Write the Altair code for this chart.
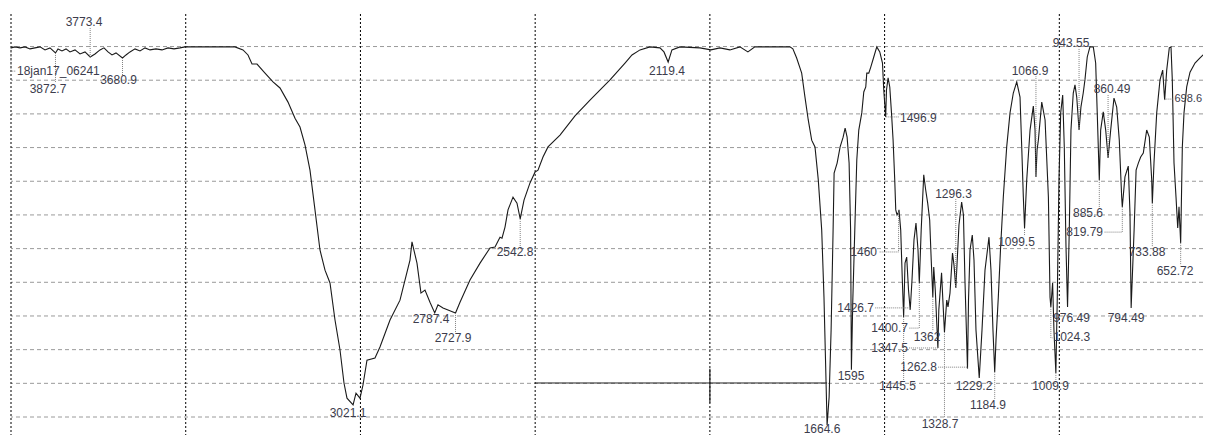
import altair as alt
import pandas as pd

# ---------------- spectrum (wavenumber cm-1, transmittance units) ----------------
wavenumber = [
    4000, 3988.6, 3974.2, 3959.9, 3945.6, 3931.3, 3917.0, 3902.7, 3888.4, 3872.7,
    3865.5, 3854.1, 3842.6, 3831.2, 3816.8, 3802.5, 3788.2, 3773.4, 3759.6, 3745.3,
    3733.9, 3722.4, 3711.0, 3699.5, 3680.9, 3670.9, 3659.5, 3645.1, 3630.8, 3616.5,
    3602.2, 3585.1, 3567.9, 3550.7, 3533.5, 3516.4, 3502.1,
    3359.0, 3336.1, 3321.8, 3310.3, 3296.0, 3273.1, 3250.2, 3230.2, 3207.3, 3187.3,
    3173.0, 3158.7, 3144.4, 3130.1, 3115.8, 3101.4, 3087.1, 3072.8, 3058.5, 3047.1,
    3038.5, 3021.1, 3012.7, 3001.3, 2992.7, 2981.3, 2958.4, 2944.1, 2915.4, 2886.8,
    2858.2, 2852.5, 2838.2, 2826.8, 2815.3, 2801.0, 2787.4, 2778.1, 2763.7, 2749.4,
    2727.9, 2715.1, 2686.5, 2657.8, 2629.2, 2614.9, 2600.6, 2594.9, 2586.3, 2577.7,
    2563.4, 2552.0, 2542.8, 2531.9, 2514.8, 2500.5, 2491.9, 2477.6, 2463.3, 2428.9,
    2386.0, 2343.1, 2285.8, 2242.9, 2222.9, 2200.0, 2171.4, 2142.8, 2131.4, 2119.4,
    2108.6, 2085.7, 2028.5, 1997.0, 1971.3, 1942.7, 1914.1, 1891.2, 1871.2, 1771.0,
    1762.5, 1751.7, 1737.3, 1727.9, 1718.5, 1708.7, 1699.2, 1689.8, 1680.0, 1673.5,
    1669.1, 1664.6, 1658.8, 1653.1, 1647.4, 1644.5, 1635.9, 1627.3, 1618.7, 1613.0,
    1607.3, 1601.6, 1597.3, 1595.0, 1591.0, 1585.3, 1579.6, 1573.9, 1565.3, 1559.6,
    1553.9, 1551.0, 1545.3, 1539.6, 1531.0, 1522.4, 1513.8, 1506.1, 1502.4, 1496.9,
    1494.6, 1490.0, 1485.2, 1480.3, 1475.7, 1471.0, 1468.1, 1464.4, 1460.0, 1458.8,
    1453.9, 1449.3, 1445.5, 1441.6, 1436.8, 1431.6, 1426.7, 1421.6, 1415.9, 1410.2,
    1404.4, 1400.7, 1395.3, 1388.0, 1382.4, 1376.7, 1371.0, 1366.6, 1362.0, 1359.4,
    1355.0, 1347.5, 1344.9, 1337.0, 1333.3, 1328.7, 1322.2, 1318.6, 1312.9, 1305.7,
    1301.4, 1296.3, 1292.9, 1287.2, 1279.5, 1274.4, 1270.1, 1262.8, 1259.9, 1255.6,
    1249.1, 1244.2, 1238.5, 1229.2, 1221.3, 1212.7, 1201.3, 1195.6, 1189.9, 1184.9,
    1181.2, 1174.6, 1168.4, 1160.3, 1150.6, 1141.1, 1131.7, 1121.9, 1112.5, 1107.6,
    1103.0, 1099.5, 1093.3, 1083.8, 1074.4, 1069.5, 1066.9, 1063.7, 1060.0, 1050.3,
    1040.8, 1031.3, 1026.6, 1024.3, 1019.2, 1015.4, 1009.9, 1005.8, 1001.0, 996.1,
    990.4, 985.8, 980.9, 976.49, 971.5, 966.7, 960.1, 955.2, 950.2, 943.55,
    938.2, 931.6, 926.7, 920.1, 912.4, 902.8, 896.0, 891.5, 885.6, 881.7,
    874.3, 867.3, 860.49, 853.0, 843.6, 835.8, 828.4, 821.6, 819.79, 812.2,
    802.7, 797.8, 794.49, 786.0, 780.3, 773.9, 767.2, 759.7, 750.0, 742.5,
    735.6, 733.88, 729.1, 721.3, 711.9, 704.2, 698.6, 692.7, 685.3, 680.4,
    676.7, 671.8, 666.1, 661.2, 657.5, 652.72, 648.0, 643.2, 635.5, 626.0,
    611.7, 597.4, 583.1, 568.8,
]
transmittance = [
    109.6, 109.9, 109.6, 109.9, 109.3, 109.6, 109.9, 109.0, 109.6, 108.1,
    109.3, 108.7, 109.3, 108.4, 109.0, 107.8, 108.4, 106.9, 107.8, 109.0,
    109.6, 108.4, 107.5, 108.1, 106.6, 107.5, 108.4, 109.3, 108.7, 109.6,
    109.0, 109.3, 109.0, 109.6, 109.3, 109.6, 109.9,
    109.9, 109.0, 107.5, 104.8, 104.8, 102.1, 99.5, 97.7, 93.5, 88.7,
    86.1, 80.8, 73.3, 61.5, 49.6, 43.6, 39.8, 28.8, 19.9, 10.1,
    5.6, 3.6, 7.1, 5.6, 9.5, 16.9, 17.5, 20.8, 28.8, 34.7,
    46.6, 52.0, 45.7, 36.8, 37.7, 34.1, 30.9, 33.3, 32.4, 31.8,
    30.9, 34.1, 40.7, 45.7, 50.2, 50.5, 53.4, 53.1, 56.4, 61.5,
    65.3, 63.5, 58.8, 64.4, 69.5, 72.7, 73.3, 77.2, 80.2, 83.7,
    89.4, 94.1, 100.1, 105.1, 107.5, 109.0, 109.9, 109.6, 108.4, 105.4,
    109.0, 109.9, 109.6, 109.0, 109.6, 109.0, 109.9, 108.4, 109.9, 109.9,
    109.3, 106.6, 102.1, 95.0, 88.2, 82.2, 80.2, 70.4, 55.5, 35.6,
    16.9, -2.4, 5.9, 25.8, 55.5, 72.4, 75.4, 80.2, 83.1, 85.8,
    83.1, 75.4, 55.5, 14.0, 34.7, 55.5, 76.3, 85.2, 90.3, 96.5,
    98.0, 102.1, 102.1, 103.9, 106.9, 109.9, 108.4, 105.1, 97.1, 89.1,
    97.1, 100.7, 98.0, 90.3, 82.2, 70.4, 61.5, 60.0, 60.9, 61.5,
    55.5, 40.7, 29.7, 45.7, 47.5, 37.7, 31.8, 40.7, 52.6, 57.6,
    49.6, 39.8, 55.5, 71.9, 67.4, 63.5, 58.5, 46.6, 35.6, 44.5,
    37.7, 20.5, 31.8, 42.8, 34.7, 25.2, 34.7, 32.7, 36.8, 48.7,
    45.1, 38.3, 45.1, 57.0, 63.8, 60.0, 40.7, 14.3, 34.7, 49.6,
    54.0, 46.6, 25.8, 11.6, 25.8, 43.6, 53.4, 43.6, 25.8, 13.4,
    22.9, 35.6, 49.6, 65.3, 80.2, 90.3, 96.2, 99.5, 95.0, 80.2,
    65.3, 56.1, 70.4, 85.2, 92.3, 85.2, 71.3, 79.3, 82.2, 93.5,
    88.2, 65.3, 35.6, 32.7, 39.8, 25.8, 13.1, 35.6, 70.4, 90.3,
    95.6, 80.2, 50.5, 32.7, 55.5, 85.2, 96.2, 98.6, 95.0, 85.2,
    92.0, 96.2, 100.1, 106.9, 109.9, 109.9, 105.1, 90.3, 70.4, 85.2,
    90.6, 85.2, 76.9, 85.2, 94.7, 92.0, 82.2, 65.3, 62.4, 71.3,
    74.5, 60.6, 32.4, 55.5, 73.3, 75.4, 77.2, 78.4, 85.2, 83.1,
    70.4, 63.5, 75.4, 90.3, 100.1, 103.0, 94.1, 103.0, 109.6, 109.9,
    100.1, 75.4, 65.3, 56.1, 62.4, 51.7, 80.2, 90.3, 98.0, 102.4,
    105.1, 106.6, 108.1, 109.0,
]

# ---------------- peak annotations ----------------
label_text = ["3773.4", "18jan17_06241", "3872.7", "3680.9", "3021.1", "2787.4", "2727.9",
              "2542.8", "2119.4", "1664.6", "1595", "1496.9", "1460", "1426.7", "1445.5",
              "1400.7", "1362", "1347.5", "1328.7", "1296.3", "1262.8", "1229.2", "1184.9",
              "1099.5", "1066.9", "1024.3", "1009.9", "976.49", "943.55", "885.6", "860.49",
              "819.79", "794.49", "733.88", "698.6", "652.72"]
peak_wn = [3773.4, 4000, 3872.7, 3680.9, 3021.1, 2787.4, 2727.9,
           2542.8, 2119.4, 1664.6, 1595, 1496.9, 1460, 1426.7, 1445.5,
           1400.7, 1362, 1347.5, 1328.7, 1296.3, 1262.8, 1229.2, 1184.9,
           1099.5, 1066.9, 1024.3, 1009.9, 976.49, 943.55, 885.6, 860.49,
           819.79, 794.49, 733.88, 698.6, 652.72]
peak_T = [106.9, 109.6, 108.1, 106.6, 3.6, 30.9, 30.9,
          58.8, 105.4, -2.4, 14.0, 89.1, 60.9, 31.8, 29.7,
          39.8, 35.6, 20.5, 25.2, 38.3, 14.3, 11.6, 13.4,
          56.1, 71.3, 32.7, 13.1, 32.7, 85.2, 70.4, 76.9,
          62.4, 32.4, 63.5, 94.1, 51.7]
has_leader = [1, 1, 1, 1, 0, 0, 1,
              1, 0, 0, 0, 1, 1, 1, 1,
              1, 1, 1, 1, 1, 1, 0, 1,
              1, 1, 1, 1, 0, 1, 1, 1,
              1, 0, 1, 1, 1]
corner_T = [115.5, 102.7, 99.5, 101.2, 3.6, 30.9, 24.9,
            50.2, 105.4, -2.4, 14.0, 89.1, 49.0, 32.4, 11.0,
            26.4, 25.5, 20.5, -0.3, 64.7, 14.8, 11.6, 5.3,
            53.7, 101.2, 23.5, 11.0, 32.7, 109.6, 62.1, 95.6,
            54.9, 32.4, 50.5, 94.4, 45.1]
end_wn = [3773.4, 3985.7, 3872.7, 3680.9, 3021.1, 2787.4, 2727.9,
          2542.8, 2119.4, 1664.6, 1595, 1458.8, 1516.0, 1527.5, 1445.5,
          1430.2, 1362, 1430.2, 1328.7, 1296.3, 1347.2, 1229.2, 1184.9,
          1099.5, 1066.9, 1019.5, 1009.9, 976.49, 943.55, 885.6, 860.49,
          872.2, 794.49, 733.88, 673.3, 652.72]
text_wn = [3791.1, 3982.8, 3894.1, 3692.4, 3035.6, 2798.1, 2735.1,
           2557.7, 2122.7, 1679.2, 1596.2, 1455.9, 1521.8, 1530.4, 1463.1,
           1433.1, 1378.7, 1433.1, 1341.5, 1302.8, 1350.0, 1244.2, 1204.1,
           1122.6, 1083.9, 1016.6, 1025.3, 965.2, 966.6, 918.0, 849.3,
           875.0, 809.2, 749.1, 591.7, 669.0]
text_T = [117.3, 102.7, 97.4, 100.1, 1.2, 29.1, 23.5,
          49.0, 102.7, -3.6, 12.2, 88.8, 49.0, 32.4, 9.2,
          26.4, 23.8, 20.5, -2.1, 66.2, 14.8, 9.2, 3.6,
          52.0, 102.7, 23.8, 9.2, 29.4, 111.0, 60.6, 97.4,
          54.9, 29.4, 49.0, 94.4, 43.3]
text_align = ["center", "left", "center", "center", "center", "center", "center",
              "center", "center", "center", "center", "left", "right", "right", "center",
              "right", "center", "right", "center", "center", "right", "center", "center",
              "center", "center", "left", "center", "center", "center", "center", "center",
              "right", "center", "center", "right", "center"]
text_size = [12] * 34 + [11, 12]

# ---------------- grid and baseline marker ----------------
grid_wn = [4000, 3500, 3000, 2500, 2000, 1500, 1000]
grid_T = [0, 10, 20, 30, 40, 50, 60, 70, 80, 90, 100, 110]
baseline_wn = [2500]
baseline_wn2 = [1664.6]
baseline_T = [10.1]
marker_wn = [2000]
marker_T = [4.2]
marker_T2 = [14.3]

# ---------------- build tables ----------------
spec_df = pd.DataFrame({"wn": wavenumber, "T": transmittance})

rows = []
for i, lab in enumerate(label_text):
    if has_leader[i]:
        rows.append({"label": lab, "o": 0, "wn": peak_wn[i], "T": peak_T[i]})
        rows.append({"label": lab, "o": 1, "wn": peak_wn[i], "T": corner_T[i]})
        rows.append({"label": lab, "o": 2, "wn": end_wn[i], "T": corner_T[i]})
leader_df = pd.DataFrame(rows)

text_df = pd.DataFrame({"label": label_text, "wn": text_wn, "T": text_T,
                        "align": text_align, "size": text_size})

xs = alt.Scale(domain=[588.85, 4000], reverse=True, nice=False, zero=False)
ys = alt.Scale(domain=[-5.34, 119.66], nice=False, zero=False)
X = lambda f="wn": alt.X(f"{f}:Q", scale=xs, axis=None)
Y = lambda f="T": alt.Y(f"{f}:Q", scale=ys, axis=None)

hgrid = alt.Chart(pd.DataFrame({"T": grid_T})).mark_rule(
    color="#9a9a9a", strokeDash=[4, 3], strokeWidth=1
).encode(y=Y())

vgrid = alt.Chart(pd.DataFrame({"wn": grid_wn})).mark_rule(
    color="#000000", strokeDash=[2, 2], strokeWidth=1
).encode(x=X())

baseline = alt.Chart(pd.DataFrame({"wn": baseline_wn, "wn2": baseline_wn2, "T": baseline_T})).mark_rule(
    color="#222222", strokeWidth=1
).encode(x=X(), x2="wn2:Q", y=Y())

marker = alt.Chart(pd.DataFrame({"wn": marker_wn, "T": marker_T, "T2": marker_T2})).mark_rule(
    color="#222222", strokeWidth=1.2
).encode(x=X(), y=Y(), y2="T2:Q")

spectrum = alt.Chart(spec_df).mark_line(
    color="#1a1a1a", strokeWidth=1.1, clip=True, interpolate="linear"
).encode(x=X(), y=Y(), order="rank:O").transform_window(rank="row_number()")

leaders = alt.Chart(leader_df).mark_line(
    color="#808080", strokeDash=[1, 1], strokeWidth=1
).encode(x=X(), y=Y(), detail="label:N", order="o:Q")

text_layers = []
for al in ["center", "left", "right"]:
    sub = text_df[text_df["align"] == al]
    text_layers.append(
        alt.Chart(sub).mark_text(
            align=al, baseline="middle", font="Liberation Sans, Arial, sans-serif",
            color="#3c3c4c"
        ).encode(x=X(), y=Y(), text="label:N",
                 size=alt.Size("size:Q", scale=None, legend=None))
    )

chart = alt.layer(hgrid, vgrid, baseline, marker, spectrum, leaders, *text_layers).properties(
    width=1192,
    height=421,
    padding={"left": 3, "top": 6, "right": 0, "bottom": 0},
    autosize=alt.AutoSizeParams(type="none"),
    background="white",
).configure_view(strokeWidth=0)

chart.save("out.html", embed_options={"renderer": "svg", "actions": False})
